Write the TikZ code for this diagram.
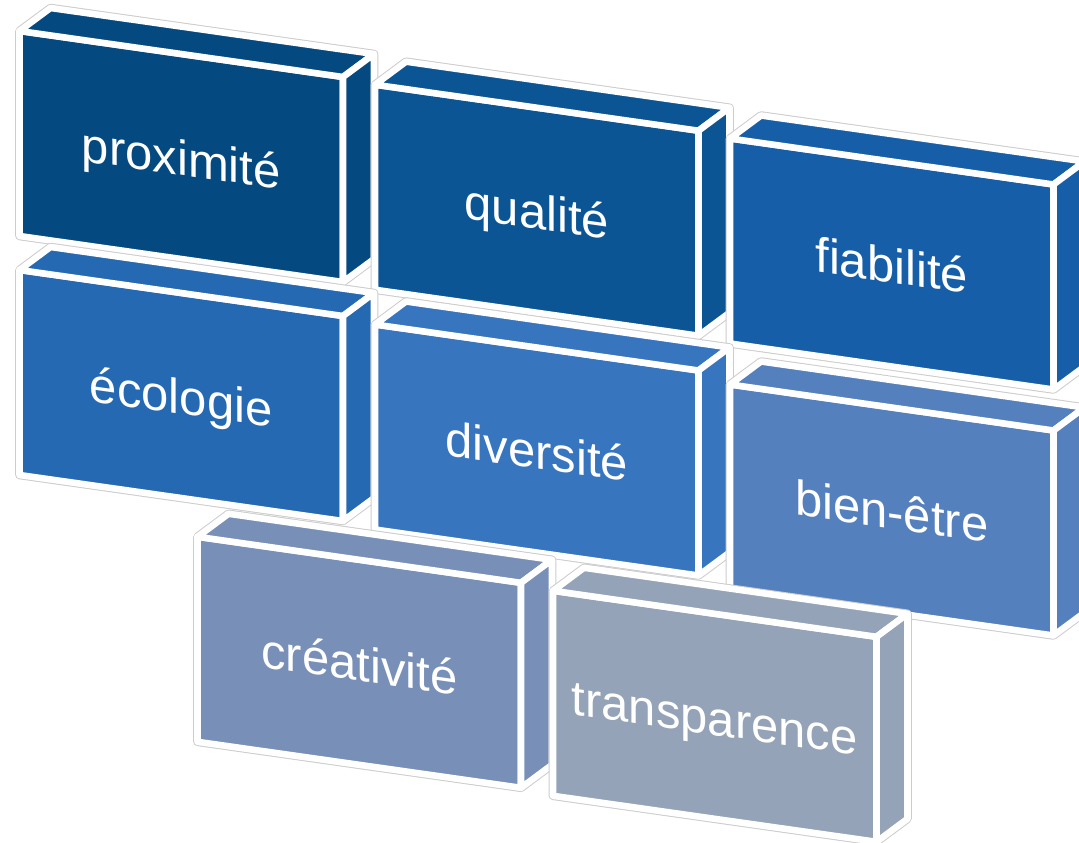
\documentclass[tikz,border=0pt]{standalone}
\usepackage{fontspec}
\setmainfont{Liberation Sans}

\definecolor{bproxi}{HTML}{044A80}
\definecolor{bquali}{HTML}{0B5595}
\definecolor{bfiab}{HTML}{165FA8}
\definecolor{becolo}{HTML}{2669B3}
\definecolor{bdivers}{HTML}{3775BF}
\definecolor{bbien}{HTML}{5580BE}
\definecolor{bcreat}{HTML}{788FB8}
\definecolor{btransp}{HTML}{94A3B8}

% one brick: front face, top face and side face, with its word on the front
% #1 node name, #2 x, #3 y (front top-left corner), #4 colour, #5 word
\newcommand\drawbrick[5]{%
  \begin{scope}[shift={(#2,#3)}]
    \draw[halo] (0,0) -- (31,-23) -- (354.5,23) -- (354.5,228) -- (323.5,251) -- (0,205) -- cycle;
    \draw[face, fill=#4] (0,0) -- (323.5,46) -- (323.5,251) -- (0,205) -- cycle;
    \draw[face, fill=#4] (0,0) -- (31,-23) -- (354.5,23) -- (323.5,46) -- cycle;
    \draw[face, fill=#4] (323.5,46) -- (354.5,23) -- (354.5,228) -- (323.5,251) -- cycle;
    \node[word] (#1) at (161.75,131.5) {#5};
  \end{scope}}

\begin{document}
\begin{tikzpicture}[x=0.75pt,y=-0.75pt,
  face/.style={draw=white, line width=4.9pt, line join=round},
  halo/.style={draw=black!20, line width=6.4pt, line join=round},
  word/.style={text=white, font=\fontsize{36.75pt}{44pt}\selectfont,
    inner sep=0pt, text height=19pt, text depth=0pt, anchor=center,
    yslant=-0.1422}]
\useasboundingbox (0,0) rectangle (1079,843);
\clip (0,0) rectangle (1079,843);

\drawbrick{proximite}{19.5}{31}{bproxi}{proximité}
\drawbrick{qualite}{375}{84.7}{bquali}{qualité}
\drawbrick{fiabilite}{730}{138.5}{bfiab}{fiabilité}
\drawbrick{ecologie}{19.5}{270}{becolo}{écologie}
\drawbrick{diversite}{375}{324.5}{bdivers}{diversité}
\drawbrick{bienetre}{730}{384.5}{bbien}{bien-être}
\drawbrick{creativite}{197.5}{536.8}{bcreat}{créativité}
\drawbrick{transparence}{553}{590.8}{btransp}{transparence}
\end{tikzpicture}
\end{document}
